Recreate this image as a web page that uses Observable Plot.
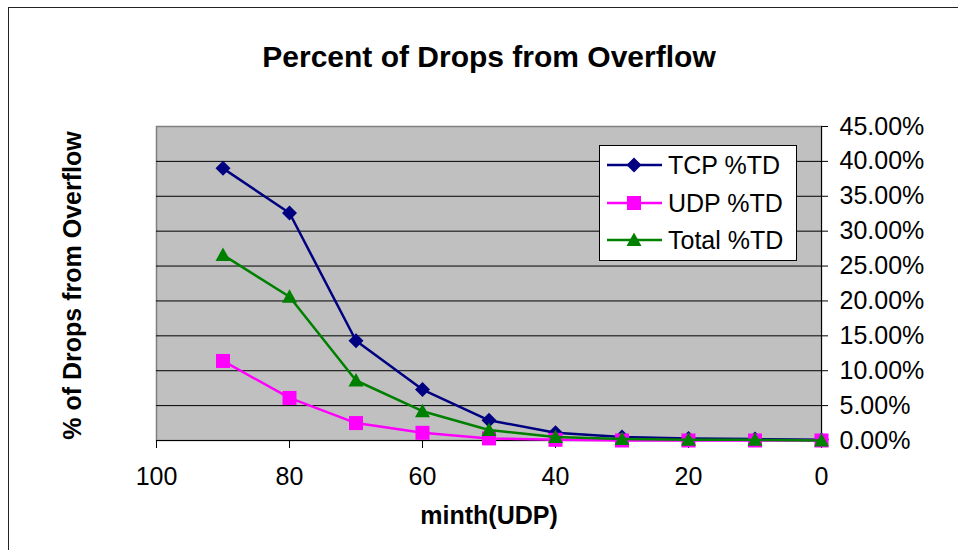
<!DOCTYPE html>
<html>
<head>
<meta charset="utf-8">
<script src="https://cdn.jsdelivr.net/npm/d3@7"></script>
<script src="https://cdn.jsdelivr.net/npm/@observablehq/plot@0.6"></script>
<style>
  html, body { margin: 0; padding: 0; background: #fff; }
  #wrap { position: relative; width: 958px; height: 550px; overflow: hidden; background: #fff;
          font-family: "Liberation Sans", Arial, sans-serif; }
  #border { position: absolute; left: 8px; top: 7px; width: 1000px; height: 600px; border: 1px solid #222; box-sizing: border-box; }
  #chart { position: absolute; left: 0; top: 0; }
  #legend { position: absolute; left: 599px; top: 145px; width: 198px; height: 116px;
            background: #fff; border: 1px solid #000; box-sizing: border-box; }
</style>
</head>
<body>
<div id="wrap">
  <div id="border"></div>
  <div id="chart"></div>
  <div id="legend"></div>
</div>
<script>
// ---- data ----
const minth = [90, 80, 70, 60, 50, 40, 30, 20, 10, 0];
const tcpTD   = [0.390, 0.326, 0.143, 0.073, 0.029, 0.011, 0.005, 0.003, 0.002, 0.001];
const udpTD   = [0.114, 0.061, 0.025, 0.011, 0.003, 0.001, 0.000, 0.000, 0.000, 0.000];
const totalTD = [0.266, 0.206, 0.086, 0.042, 0.015, 0.005, 0.002, 0.001, 0.001, 0.000];
const seriesNames = ["TCP %TD", "UDP %TD", "Total %TD"];
const seriesColors = ["#000080", "#FF00FF", "#008000"];
const xTicks = [100, 80, 60, 40, 20, 0];
const yTicks = [0, 0.05, 0.10, 0.15, 0.20, 0.25, 0.30, 0.35, 0.40, 0.45];
const titleText = "Percent of Drops from Overflow";
const xLabel = "minth(UDP)";
const yLabel = "% of Drops from Overflow";

// ---- marker shapes ----
const diamond = {draw(c) { const r = 7.5; c.moveTo(0, -r); c.lineTo(r, 0); c.lineTo(0, r); c.lineTo(-r, 0); c.closePath(); }};
const square = {draw(c) { const h = 7; c.moveTo(-h, -h); c.lineTo(h, -h); c.lineTo(h, h); c.lineTo(-h, h); c.closePath(); }};
const triangle = {draw(c) { c.moveTo(0, -7.5); c.lineTo(7.5, 6); c.lineTo(-7.5, 6); c.closePath(); }};
const symbols = [diamond, square, triangle];

const values = [tcpTD, udpTD, totalTD];
const seriesData = values.map((vals, i) => minth.map((m, j) => ({series: seriesNames[i], x: m, y: vals[j]})));

const seriesMarks = seriesData.flatMap((d, i) => [
  Plot.line(d, {x: "x", y: "y", stroke: seriesColors[i], strokeWidth: 2.5}),
  Plot.dot(d, {x: "x", y: "y", symbol: symbols[i], fill: seriesColors[i], stroke: "none", r: 5})
]);

const chart = Plot.plot({
  width: 958,
  height: 550,
  marginLeft: 156,
  marginRight: 137,
  marginTop: 126,
  marginBottom: 110,
  style: {fontFamily: "'Liberation Sans', Arial, sans-serif", fontSize: "25px", background: "transparent", color: "#000", overflow: "visible"},
  x: {domain: [100, 0]},
  y: {domain: [0, 0.45]},
  marks: [
    Plot.frame({fill: "#C0C0C0", stroke: "#808080", strokeWidth: 1.5}),
    Plot.ruleY(yTicks.filter(t => t < 0.449), {stroke: "#000", strokeWidth: 1}),
    Plot.ruleX([0], {stroke: "#000", strokeWidth: 1}),
    Plot.axisX(xTicks, {tickSize: 8, tickPadding: 19, fontSize: 25, label: null, stroke: "#000"}),
    Plot.axisY(yTicks, {anchor: "right", tickSize: 6, tickPadding: 12, fontSize: 25, label: null,
      tickFormat: d => (d * 100).toFixed(2) + "%"}),
    ...seriesMarks,
    Plot.text([titleText], {frameAnchor: "top", textAnchor: "middle", dy: -80.5, fontSize: 30, fontWeight: "bold", text: d => d}),
    Plot.text([xLabel], {frameAnchor: "bottom", textAnchor: "middle", dy: 83, fontSize: 25, fontWeight: "bold", text: d => d}),
    Plot.text([yLabel], {frameAnchor: "left", textAnchor: "middle", dx: -84, dy: 2, rotate: -90, fontSize: 25, fontWeight: "bold", text: d => d})
  ]
});
document.getElementById("chart").appendChild(chart);

// ---- legend ----
const legend = d3.select("#legend").append("svg").attr("width", 198).attr("height", 116)
  .style("position", "absolute").style("left", "-1px").style("top", "-1px").style("overflow", "visible");
const rowY = [20, 58, 95];
seriesNames.forEach((name, i) => {
  const g = legend.append("g").attr("transform", `translate(0,${rowY[i]})`);
  g.append("line").attr("x1", 8).attr("x2", 63).attr("y1", 0).attr("y2", 0)
    .attr("stroke", seriesColors[i]).attr("stroke-width", 2.5);
  g.append("path").attr("d", d3.symbol().type(symbols[i])()).attr("transform", "translate(35,0)")
    .attr("fill", seriesColors[i]);
  g.append("text").attr("x", 69).attr("y", 9).text(name)
    .attr("font-family", "'Liberation Sans', Arial, sans-serif").attr("font-size", 25).attr("fill", "#000");
});
</script>
</body>
</html>
